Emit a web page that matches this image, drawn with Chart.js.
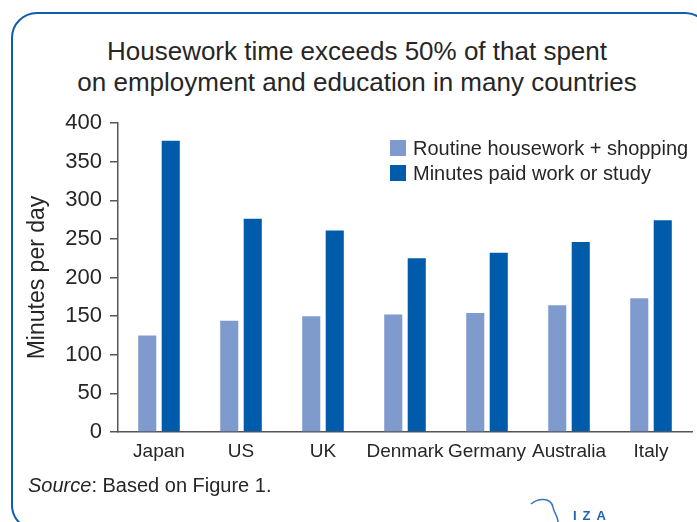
<!DOCTYPE html>
<html>
<head>
<meta charset="utf-8">
<script src="https://cdn.jsdelivr.net/npm/chart.js@4.4.0/dist/chart.umd.min.js"></script>
<style>
  html, body { margin: 0; padding: 0; background: #fff; overflow: hidden; }
  body { width: 697px; height: 522px; position: relative; font-family: "Liberation Sans", Arial, sans-serif; color: #262626; }
  #frame { position: absolute; left: 11px; top: 12px; width: 700px; height: 519px; border: 2.5px solid #0d5eab; border-radius: 26px; box-sizing: border-box; }
  #chartBox { position: absolute; left: 0; top: 0; width: 697px; height: 522px; }
  #title { position: absolute; left: 0; top: 36px; width: 714px; text-align: center; font-size: 26px; line-height: 31px; color: #262626; }
  #source { position: absolute; left: 28px; top: 474px; font-size: 20px; color: #262626; }
  #iza { position: absolute; left: 573px; top: 508px; font-size: 13px; font-weight: bold; letter-spacing: 6px; color: #1d63b3; }
  #izaCurve { position: absolute; left: 0; top: 0; }
</style>
</head>
<body>
<div id="frame"></div>
<div id="title">Housework time exceeds 50% of that spent<br>on employment and education in many countries</div>
<div id="chartBox"><canvas id="chart" width="697" height="522"></canvas></div>
<div id="source"><i>Source</i>: Based on Figure 1.</div>
<svg id="izaCurve" width="697" height="522"><path d="M531 504 C 539 497, 551 498, 553 507 C 554 514, 558 515, 558 522" fill="none" stroke="#3a75c0" stroke-width="1.5"/></svg>
<div id="iza">IZA</div>
<script>
// Données (minutes par jour)
const countries = ['Japan', 'US', 'UK', 'Denmark', 'Germany', 'Australia', 'Italy'];
const housework = [125, 144, 150, 152, 154, 164, 173];
const paidWork = [377, 276, 261, 225, 232, 246, 274];
const seriesLabels = ['Routine housework + shopping', 'Minutes paid work or study'];
const yTicks = [0, 50, 100, 150, 200, 250, 300, 350, 400];

const textColor = '#262626';
const axisColor = '#555555';
const fontFamily = "'Liberation Sans', Arial, sans-serif";

/**
 * Légende dessinée dans la zone du graphique, en haut à droite
 */
const insideLegend = {
  id: 'insideLegend',
  afterDraw(chart) {
    const ctx = chart.ctx;
    ctx.save();
    ctx.font = '20px ' + fontFamily;
    ctx.textBaseline = 'middle';
    chart.data.datasets.forEach((ds, i) => {
      const y = 148 + i * 25;
      ctx.fillStyle = ds.backgroundColor;
      ctx.fillRect(390, y - 8, 16, 16);
      ctx.fillStyle = textColor;
      ctx.fillText(ds.label, 413, y + 1);
    });
    ctx.restore();
  }
};

const chart = new Chart(document.getElementById('chart'), {
  type: 'bar',
  data: {
    labels: countries,
    datasets: [
      {
        label: seriesLabels[0],
        data: housework,
        backgroundColor: '#7f9bcd',
        categoryPercentage: 0.573,
        barPercentage: 0.77
      },
      {
        label: seriesLabels[1],
        data: paidWork,
        backgroundColor: '#005bab',
        categoryPercentage: 0.573,
        barPercentage: 0.77
      }
    ]
  },
  options: {
    responsive: false,
    animation: false,
    layout: {
      padding: { top: 123, right: 5, bottom: 50, left: 0 }
    },
    plugins: {
      legend: { display: false },
      tooltip: { enabled: false },
      title: { display: false }
    },
    scales: {
      x: {
        afterFit: (scale) => { scale.height = 40; },
        grid: { display: false, drawTicks: false },
        border: { display: true, color: axisColor, width: 1.5 },
        ticks: {
          color: textColor,
          padding: 8,
          autoSkip: false,
          maxRotation: 0,
          font: { family: fontFamily, size: 19 }
        }
      },
      y: {
        min: 0,
        max: 400,
        afterFit: (scale) => { scale.width = 118; },
        afterBuildTicks: (scale) => { scale.ticks = yTicks.map(v => ({ value: v })); },
        grid: {
          drawOnChartArea: false,
          drawTicks: true,
          tickLength: 8,
          color: axisColor,
          lineWidth: 1.5
        },
        border: { display: true, color: axisColor, width: 1.5 },
        ticks: {
          color: textColor,
          padding: 8,
          font: { family: fontFamily, size: 22 }
        },
        title: {
          display: true,
          text: 'Minutes per day',
          color: textColor,
          padding: { top: 24, bottom: 0 },
          font: { family: fontFamily, size: 23 }
        }
      }
    }
  },
  plugins: [insideLegend]
});
</script>
</body>
</html>
